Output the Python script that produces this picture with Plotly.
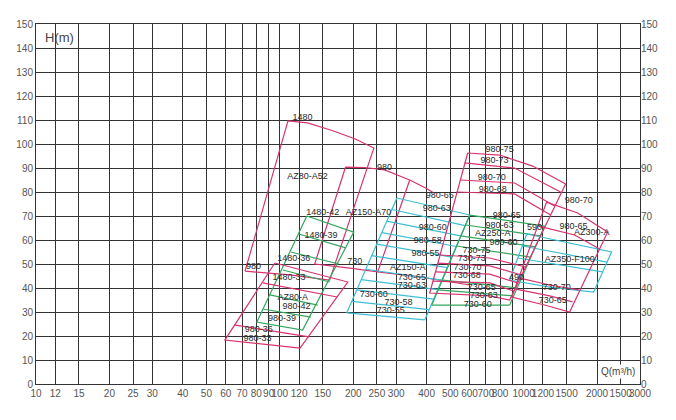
import math
import plotly.graph_objects as go

PINK = "#d7336f"
GREEN = "#35a65d"
CYAN = "#3dbfd3"
GRID = "#333333"
FONT = "Liberation Sans, Arial, sans-serif"

# ---------------- axes ----------------
q_tick_vals = [10, 12, 15, 20, 25, 30, 40, 50, 60, 70, 80, 90, 100, 120, 150, 200, 250, 300,
               400, 500, 600, 700, 800, 900, 1000, 1200, 1500, 2000, 2500, 3000]
q_tick_text = ["10", "12", "15", "20", "25", "30", "40", "50", "60", "70", "80", "90", "100", "120",
               "150", "200", "250", "300", "400", "500", "600", "700", "800", "", "1000", "1200",
               "1500", "2000", "1500", "3000"]
h_tick_vals = list(range(0, 151, 10))

# ---------------- AZ80-A52 (pink) ----------------
az80a52_q = [72, 108, 130, 165, 205, 243, 160, 110, 72]
az80a52_h = [47, 109.6, 108.8, 105.5, 102, 98.3, 43.3, 45.5, 47]

# ---------------- AZ150-A70 (pink) ----------------
az150a70_q = [186, 223, 269, 341, 252, 194, 139, 186]
az150a70_h = [90.4, 90.2, 89.2, 85, 46.7, 48.3, 50, 90.4]
az150a70_ext_q = [252, 375, 601]
az150a70_ext_h = [46.7, 44.6, 41.25]
az150a70_top_ext_q = [341, 400, 430]
az150a70_top_ext_h = [85, 81.5, 79.5]

# ---------------- AZ80-A (green) ----------------
az80a_g_q = [129, 201, 124, 80.5, 129]
az80a_g_h = [70, 63.3, 22.5, 25.8, 70]
az80a_g_lines_q = [[119.6, 186.5], [110.9, 174.5], [102.9, 160.3], [91, 143], [85.2, 134]]
az80a_g_lines_h = [[62.5, 56.7], [55, 50], [47.5, 42.5], [37.1, 32.9], [31.25, 27.9]]

# ---------------- AZ80-A (pink) ----------------
az80a_p_q = [95.4, 190, 121, 59.5, 95.4]
az80a_p_h = [50.4, 42.5, 15, 18.3, 50.4]
az80a_p_lines_q = [[85, 172], [65, 132]]
az80a_p_lines_h = [[42.1, 36.25], [24.6, 19.6]]

# ---------------- AZ150-A (cyan) ----------------
az150a_left_q = [302, 288, 274, 262, 250, 238, 225, 216, 207, 197, 188]
az150a_left_h = [77.5, 72.7, 67.9, 63.1, 58.3, 53.5, 47.8, 43.5, 39.2, 34.4, 29.6]
az150a_right_q = [601, 576, 552, 529, 507, 486, 461, 444, 428, 410, 393]
az150a_right_h = [70.4, 66, 61.7, 57.3, 52.9, 48.5, 43.3, 39.3, 35.4, 31, 26.7]

# ---------------- AZ250-A (green) ----------------
az250a_g_left_q = [601, 420]
az250a_g_left_h = [70.4, 32.9]
az250a_g_right_q = [1219, 876]
az250a_g_right_h = [65.8, 32.9]
az250a_g_lines_q = [[601, 1219], [579, 1174], [552, 1120], [531, 1068], [466, 945], [445, 910], [420, 876]]
az250a_g_lines_h = [[70.4, 65.8], [66.25, 61.7], [61.7, 57.1], [57.5, 52.9], [43.3, 40], [39.2, 36.7], [32.9, 32.9]]

# ---------------- AZ250-A (pink) ----------------
az250a_p_q = [589.5, 797, 1089, 1486, 876, 726, 412, 589.5]
az250a_p_h = [96.25, 95.4, 90.8, 83.3, 35, 36.7, 37.9, 96.25]
az250a_p_lines_q = [[573, 918, 1418], [552, 918, 1340], [531, 918, 1290],
                    [453, 726, 1019], [444, 726, 981], [436, 726, 945], [424, 726, 910]]
az250a_p_lines_h = [[92.1, 90, 80], [85, 83.75, 74.2], [80, 79.2, 70.4],
                    [53.75, 52.5, 48.75], [50.4, 49.2, 45.4], [46.7, 45.8, 42.1], [42.9, 42.1, 38.75]]

# ---------------- AZ300-A (pink) ----------------
az300a_q = [1242, 1665, 2210, 1544, 1219, 893, 1242]
az300a_h = [75.8, 71.25, 63.3, 30, 32.9, 36.25, 75.8]
az300a_lines_q = [[1152, 1618, 2049], [954, 1278, 1681], [918, 1278, 1588]]
az300a_lines_h = [[65.8, 62.1, 56.25], [44.2, 41.25, 39.2], [39.6, 36.7, 34.2]]

# ---------------- AZ350-F100 (cyan) ----------------
az350_q = [1029, 2294, 1936, 1278, 876, 1029]
az350_h = [62.5, 55, 38.3, 40.4, 43.3, 62.5]
az350_lines_q = [[990, 2200], [945, 2107]]
az350_lines_h = [[57.5, 50.8], [52.5, 46.7]]

# ---------------- labels ----------------
label_text = ["1480", "980", "AZ80-A52", "980", "1480-42", "AZ150-A70", "730",
              "1480-39", "1480-36", "1480-33", "AZ80-A", "980-42", "980-39", "980-36", "980-33",
              "980-65", "980-63", "980-60", "980-58", "980-55", "AZ150-A",
              "730-65", "730-63", "730-60", "730-58", "730-55",
              "980-75", "980-73", "980-70", "980-68", "980-65", "980-63", "AZ250-A", "980-60",
              "730-75", "730-73", "730-70", "730-68", "730-65", "730-63", "730-60",
              "980-70", "590", "980-65", "AZ300-A", "730-70", "730-65",
              "AZ350-F100", "490"]
label_q = [124, 78, 130, 269, 150, 231, 203,
           147.6, 114, 109, 113, 117, 102, 82, 81,
           453, 440, 424, 404, 396, 335,
           348, 348, 243, 307, 285,
           797, 760, 740, 747, 852, 797, 747, 827,
           641, 612, 589, 584, 673, 686, 648,
           1681, 1109, 1600, 1904, 1367, 1316,
           1544, 935]
label_h = [111, 48.75, 86.25, 90, 71.3, 71.3, 50.8,
           61.7, 52, 44.2, 35.8, 32, 27, 22.5, 18.75,
           78.3, 72.9, 65, 59.6, 54.2, 48.3,
           44.2, 40.8, 37.1, 33.75, 30.4,
           97.5, 92.9, 85.8, 80.8, 70, 65.8, 62.5, 58.75,
           55.4, 52.1, 48.3, 45, 40, 36.7, 32.9,
           76.25, 65, 65.4, 62.9, 40, 34.6,
           51.7, 44.2]

fig = go.Figure()


def add_line(q, h, color):
    fig.add_trace(go.Scatter(x=q, y=h, mode="lines", line=dict(color=color, width=1.2),
                             hoverinfo="skip", showlegend=False))


# pink outlines
add_line(az80a52_q, az80a52_h, PINK)
add_line(az150a70_q, az150a70_h, PINK)
add_line(az150a70_ext_q, az150a70_ext_h, PINK)
add_line(az150a70_top_ext_q, az150a70_top_ext_h, PINK)

# AZ80-A
add_line(az80a_g_q, az80a_g_h, GREEN)
for q, h in zip(az80a_g_lines_q, az80a_g_lines_h):
    add_line(q, h, GREEN)
add_line(az80a_p_q, az80a_p_h, PINK)
for q, h in zip(az80a_p_lines_q, az80a_p_lines_h):
    add_line(q, h, PINK)

# AZ150-A cyan
add_line([az150a_left_q[0], az150a_left_q[-1]], [az150a_left_h[0], az150a_left_h[-1]], CYAN)
add_line([az150a_right_q[0], az150a_right_q[-1]], [az150a_right_h[0], az150a_right_h[-1]], CYAN)
for ql, hl, qr, hr in zip(az150a_left_q, az150a_left_h, az150a_right_q, az150a_right_h):
    add_line([ql, qr], [hl, hr], CYAN)

# AZ250-A green
add_line(az250a_g_left_q, az250a_g_left_h, GREEN)
add_line(az250a_g_right_q, az250a_g_right_h, GREEN)
for q, h in zip(az250a_g_lines_q, az250a_g_lines_h):
    add_line(q, h, GREEN)

# AZ350-F100 cyan
add_line(az350_q, az350_h, CYAN)
for q, h in zip(az350_lines_q, az350_lines_h):
    add_line(q, h, CYAN)

# AZ250-A pink
add_line(az250a_p_q, az250a_p_h, PINK)
for q, h in zip(az250a_p_lines_q, az250a_p_lines_h):
    add_line(q, h, PINK)

# AZ300-A pink
add_line(az300a_q, az300a_h, PINK)
for q, h in zip(az300a_lines_q, az300a_lines_h):
    add_line(q, h, PINK)

# labels
fig.add_trace(go.Scatter(x=label_q, y=label_h, mode="text", text=label_text,
                         textposition="middle center", cliponaxis=False,
                         textfont=dict(family=FONT, size=9, color="#2a2a2a"),
                         hoverinfo="skip", showlegend=False))

# invisible trace for right axis
fig.add_trace(go.Scatter(x=[100], y=[0], yaxis="y2", mode="markers",
                         marker=dict(opacity=0), hoverinfo="skip", showlegend=False))

tickfont = dict(family=FONT, size=10, color="#555555")
fig.update_layout(
    width=668, height=404,
    margin=dict(l=28, r=36, t=16, b=28),
    paper_bgcolor="white", plot_bgcolor="white",
    showlegend=False,
    xaxis=dict(type="log", range=[1, math.log10(3000)], tickmode="array",
               tickvals=q_tick_vals, ticktext=q_tick_text, tickangle=0, automargin=False,
               showgrid=True, gridcolor=GRID, gridwidth=1, showline=True, linecolor=GRID,
               linewidth=1, mirror=True, ticks="", tickfont=tickfont, zeroline=False),
    yaxis=dict(range=[0, 150], tickmode="array", tickvals=h_tick_vals, showgrid=True,
               automargin=False, gridcolor=GRID, gridwidth=1, showline=True, linecolor=GRID,
               linewidth=1, mirror=True, ticks="", tickfont=tickfont, zeroline=False),
    yaxis2=dict(range=[0, 150], overlaying="y", side="right", tickmode="array",
                automargin=False, tickvals=h_tick_vals, showgrid=False, ticks="",
                tickfont=tickfont, zeroline=False, showline=False),
    annotations=[
        dict(text="H(m)", xref="paper", yref="paper", x=0.012, y=0.962, xanchor="left",
             yanchor="middle", showarrow=False, font=dict(family=FONT, size=13, color="#444444")),
        dict(text="Q(m³/h)", xref="paper", yref="paper", x=0.995, y=0.036, xanchor="right",
             yanchor="middle", showarrow=False, bgcolor="white",
             font=dict(family=FONT, size=10, color="#444444")),
    ],
)

fig.write_html("out.html")
